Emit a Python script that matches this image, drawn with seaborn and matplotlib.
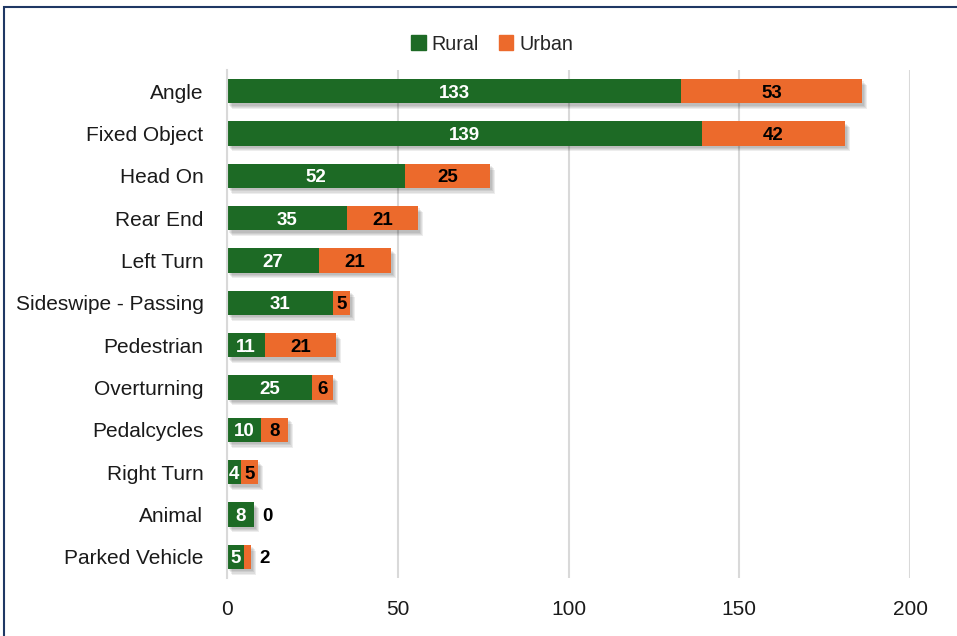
import matplotlib
matplotlib.use("Agg")
import matplotlib.pyplot as plt
import matplotlib.patheffects as pe
from matplotlib.patches import Rectangle, Patch
import seaborn as sns
import pandas as pd

categories = ["Angle", "Fixed Object", "Head On", "Rear End", "Left Turn",
              "Sideswipe - Passing", "Pedestrian", "Overturning", "Pedalcycles",
              "Right Turn", "Animal", "Parked Vehicle"]
rural = [133, 139, 52, 35, 27, 31, 11, 25, 10, 4, 8, 5]
urban = [53, 42, 25, 21, 21, 5, 21, 6, 8, 5, 0, 2]

GREEN = "#1D6A25"
ORANGE = "#EC6A2C"

df = pd.DataFrame({"category": categories, "Rural": rural, "Urban": urban})
df["Total"] = df["Rural"] + df["Urban"]

sns.set_theme(style="white")
plt.rcParams["font.family"] = ["Liberation Sans", "DejaVu Sans"]

fig = plt.figure(figsize=(9.57, 6.36), dpi=100)
ax = fig.add_axes([0.2372, 0.0912, 0.7137, 0.7988])

# soft drop shadow: a few stacked translucent offsets
shadow = [pe.SimplePatchShadow(offset=(o, -o * 1.2), shadow_rgbFace="#000000", alpha=0.07)
          for o in (3.5, 2.8, 2.1, 1.4)] + [pe.Normal()]

sns.barplot(data=df, x="Total", y="category", color=ORANGE, orient="h",
            width=0.57, saturation=1, linewidth=0, ax=ax)
for p in ax.patches:
    p.set_path_effects(shadow)
sns.barplot(data=df, x="Rural", y="category", color=GREEN, orient="h",
            width=0.57, saturation=1, linewidth=0, ax=ax)

ax.set_xlim(0, 200)
ax.set_ylim(11.5, -0.5)
ax.set_xticks([0, 50, 100, 150, 200])
ax.set_xlabel("")
ax.set_ylabel("")
ax.grid(axis="x", color="#D9D9D9", linewidth=1.5)
ax.set_axisbelow(True)
for s in ["top", "right", "bottom"]:
    ax.spines[s].set_visible(False)
ax.spines["left"].set_color("#D9D9D9")
ax.spines["left"].set_linewidth(1.5)
ax.tick_params(axis="y", length=0, pad=17, labelsize=15, labelcolor="#1a1a1a")
ax.tick_params(axis="x", length=0, pad=16, labelsize=15, labelcolor="#1a1a1a")

lbl = dict(fontsize=13.5, fontweight="bold", va="center_baseline")
for i, (r, u) in enumerate(zip(rural, urban)):
    ax.text(r / 2, i, str(r), ha="center", color="white", **lbl)
    if u >= 4:
        ax.text(r + u / 2, i, str(u), ha="center", color="black", **lbl)
    else:
        ax.annotate(str(u), xy=(r + u, i), xytext=(6, 0), textcoords="offset points",
                    ha="left", color="black", **lbl)

handles = [Patch(color=GREEN, label="Rural"), Patch(color=ORANGE, label="Urban")]
fig.legend(handles=handles, loc="center", bbox_to_anchor=(492 / 957, 1 - 44 / 636),
           ncol=2, frameon=False, fontsize=14.2, handlelength=0.75, handleheight=0.75,
           handletextpad=0.3, columnspacing=1.0)

fig.patches.append(Rectangle((4 / 957, -0.1), 1.2, 1 - 7 / 636 + 0.1,
                             transform=fig.transFigure, fill=False,
                             edgecolor="#1F3864", linewidth=1.5))

fig.savefig("out.png", dpi=100)
